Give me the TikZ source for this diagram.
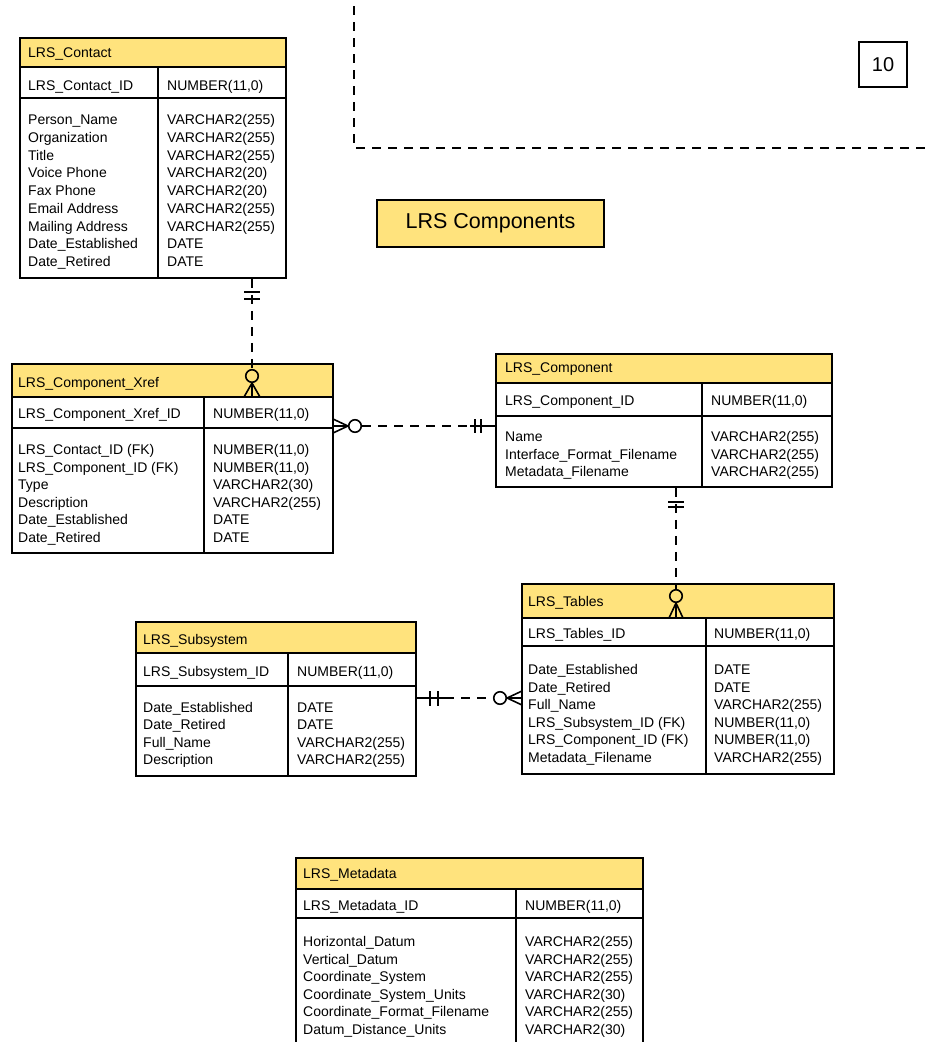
\documentclass[tikz,border=0pt]{standalone}
\usepackage{fontspec}
\setmainfont{Liberation Sans}
\usetikzlibrary{fit}
\definecolor{hdryellow}{RGB}{255,227,125}
\tikzset{
  fld/.style={inner sep=0pt, anchor=base west, font=\fontsize{14}{16}\selectfont},
  ebox/.style={draw, line width=1.6pt, inner sep=0pt},
  rel/.style={line width=1.6pt, dash pattern=on 9pt off 7pt},
  relsolid/.style={line width=1.6pt},
  ocirc/.style={circle, draw, line width=1.6pt, minimum size=12.5pt, inner sep=0pt},
}
% entity box: name, left, top, right, column divider, header bottom, key bottom, bottom
\newcommand\erentity[8]{%
  \fill[hdryellow] (#2,#3) rectangle (#4,#6);
  \draw[line width=1.6pt] (#2,#6) -- (#4,#6) (#2,#7) -- (#4,#7) (#5,#6) -- (#5,#8);
  \node[ebox, fit={(#2,#3) (#4,#8)}] (#1) {};
}
% attribute rows: prefix, name x, type x, first baseline, row step, list name/type
\newcommand\erfields[6]{%
  \foreach \fname/\ftype [count=\k from 0] in {#6}{
    \node[fld] (#1-n\k) at (#2,{#4+\k*#5}) {\fname};
    \node[fld] (#1-t\k) at (#3,{#4+\k*#5}) {\ftype};
  }}
\begin{document}
\begin{tikzpicture}[x=1pt,y=-1pt]
\useasboundingbox (0,0) rectangle (926,1042);
\clip (0,0) rectangle (926,1042);

% subject area frame, page number and title
\draw[rel] (354,6) -- (354,148) -- (926,148);
\node[draw, line width=1.6pt, minimum width=48pt, minimum height=45pt,
      font=\fontsize{20}{24}\selectfont] (pagenum) at (883,64.5) {10};
\node[draw, line width=1.6pt, fill=hdryellow, minimum width=227pt, minimum height=47pt,
      font=\fontsize{21.5}{26}\selectfont] (areatitle) at (490.5,223.5) {LRS Components};

% LRS_Contact
\erentity{contact}{20}{38}{286}{158}{67}{98}{278}
\node[fld] (contact-title) at (28,57.5) {LRS\_Contact};
\node[fld] (contact-key) at (28,90.5) {LRS\_Contact\_ID};
\node[fld] (contact-keytype) at (167,90.5) {NUMBER(11,0)};
\erfields{contact}{28}{167}{124.5}{17.75}{%
  {Person\_Name/VARCHAR2(255)},{Organization/VARCHAR2(255)},{Title/VARCHAR2(255)},
  {Voice Phone/VARCHAR2(20)},{Fax Phone/VARCHAR2(20)},{Email Address/VARCHAR2(255)},
  {Mailing Address/VARCHAR2(255)},{Date\_Established/DATE},{Date\_Retired/DATE}}

% LRS_Component_Xref
\erentity{xref}{12}{364}{333}{204}{397}{428}{553}
\node[fld] (xref-title) at (18,387.5) {LRS\_Component\_Xref};
\node[fld] (xref-key) at (18,418.5) {LRS\_Component\_Xref\_ID};
\node[fld] (xref-keytype) at (213,418.5) {NUMBER(11,0)};
\erfields{xref}{18}{213}{454.5}{17.6}{%
  {LRS\_Contact\_ID (FK)/NUMBER(11,0)},{LRS\_Component\_ID (FK)/NUMBER(11,0)},
  {Type/VARCHAR2(30)},{Description/VARCHAR2(255)},{Date\_Established/DATE},
  {Date\_Retired/DATE}}

% LRS_Component
\erentity{component}{496}{354}{832}{702}{383}{416}{487}
\node[fld] (component-title) at (505,372.5) {LRS\_Component};
\node[fld] (component-key) at (505,405.5) {LRS\_Component\_ID};
\node[fld] (component-keytype) at (711,405.5) {NUMBER(11,0)};
\erfields{component}{505}{711}{441.5}{17.5}{%
  {Name/VARCHAR2(255)},{Interface\_Format\_Filename/VARCHAR2(255)},
  {Metadata\_Filename/VARCHAR2(255)}}

% LRS_Tables
\erentity{tables}{522}{584}{834}{706}{618}{646}{774}
\node[fld] (tables-title) at (528,606.5) {LRS\_Tables};
\node[fld] (tables-key) at (528,638.5) {LRS\_Tables\_ID};
\node[fld] (tables-keytype) at (714,638.5) {NUMBER(11,0)};
\erfields{tables}{528}{714}{674.5}{17.6}{%
  {Date\_Established/DATE},{Date\_Retired/DATE},{Full\_Name/VARCHAR2(255)},
  {LRS\_Subsystem\_ID (FK)/NUMBER(11,0)},{LRS\_Component\_ID (FK)/NUMBER(11,0)},
  {Metadata\_Filename/VARCHAR2(255)}}

% LRS_Subsystem
\erentity{subsystem}{136}{622}{416}{288}{653}{686}{776}
\node[fld] (subsystem-title) at (143,644.5) {LRS\_Subsystem};
\node[fld] (subsystem-key) at (143,676.5) {LRS\_Subsystem\_ID};
\node[fld] (subsystem-keytype) at (297,676.5) {NUMBER(11,0)};
\erfields{subsystem}{143}{297}{712.5}{17.33}{%
  {Date\_Established/DATE},{Date\_Retired/DATE},{Full\_Name/VARCHAR2(255)},
  {Description/VARCHAR2(255)}}

% LRS_Metadata
\erentity{metadata}{296}{858}{643}{516}{889}{918}{1060}
\node[fld] (metadata-title) at (303,878.5) {LRS\_Metadata};
\node[fld] (metadata-key) at (303,910.5) {LRS\_Metadata\_ID};
\node[fld] (metadata-keytype) at (525,910.5) {NUMBER(11,0)};
\erfields{metadata}{303}{525}{946.5}{17.6}{%
  {Horizontal\_Datum/VARCHAR2(255)},{Vertical\_Datum/VARCHAR2(255)},
  {Coordinate\_System/VARCHAR2(255)},{Coordinate\_System\_Units/VARCHAR2(30)},
  {Coordinate\_Format\_Filename/VARCHAR2(255)},{Datum\_Distance\_Units/VARCHAR2(30)}}

% LRS_Contact (one) -- LRS_Component_Xref (zero or many)
\coordinate (r1x) at (252,0);
\node[ocirc] (r1o) at (252,376) {};
\draw[rel] (contact.south -| r1x) -- (r1o.north);
\draw[relsolid] (244,292) -- (260,292) (244,299) -- (260,299);
\draw[relsolid] (r1o.south) -- (244,397) (r1o.south) -- (252,397) (r1o.south) -- (260,397);

% LRS_Component (one) -- LRS_Component_Xref (zero or many)
\node[ocirc] (r2o) at (355,426) {};
\draw[rel] (r2o.east) -- (470,426);
\draw[relsolid] (470,426) -- (r2o -| component.west);
\draw[relsolid] (475,419) -- (475,433) (481,419) -- (481,433);
\draw[relsolid] (r2o.west) -- (333,419) (r2o.west) -- (333,426) (r2o.west) -- (333,433);

% LRS_Component (one) -- LRS_Tables (zero or many)
\coordinate (r3x) at (676,0);
\node[ocirc] (r3o) at (676,596) {};
\draw[rel] (component.south -| r3x) -- (r3o.north);
\draw[relsolid] (668,502) -- (684,502) (668,507) -- (684,507);
\draw[relsolid] (r3o.south) -- (669,618) (r3o.south) -- (676,618) (r3o.south) -- (683,618);

% LRS_Subsystem (one) -- LRS_Tables (zero or many)
\node[ocirc] (r4o) at (500,698) {};
\draw[relsolid] (r4o -| subsystem.east) -- (445,698);
\draw[rel] (445,698) -- (r4o.west);
\draw[relsolid] (430,691) -- (430,706) (438,691) -- (438,706);
\draw[relsolid] (r4o.east) -- (522,691) (r4o.east) -- (522,698) (r4o.east) -- (522,705);
\end{tikzpicture}
\end{document}
